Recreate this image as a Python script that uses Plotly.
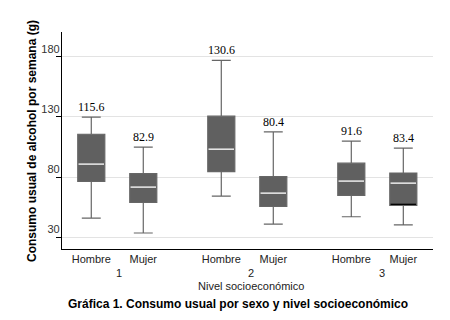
import plotly.graph_objects as go

groups = ["1", "2", "3"]
sexes = ["Hombre", "Mujer"]
q3 = [115.6, 82.9, 130.6, 80.4, 91.6, 83.4]
upper = [129.8, 104.9, 177.0, 117.6, 109.9, 104.0]
median = [90.8, 71.7, 103.2, 66.7, 76.7, 75.0]
q1 = [76.4, 58.9, 84.6, 55.6, 64.8, 56.5]
lower = [46.0, 33.6, 64.2, 41.0, 47.1, 40.4]
ytick_vals = [30, 80, 130, 180]

# layout positions: groups 2.5 units apart, sexes 1 unit apart
pos = []
labels = []
for gi, g in enumerate(groups):
    for si, s in enumerate(sexes):
        pos.append(gi * 2.5 + si)
        labels.append(s)

W, H = 450, 320
L, R, T, B = 62, 17, 32, 71
sans = "Liberation Sans, Arial, sans-serif"
serif = "Liberation Serif, Times New Roman, serif"

fig = go.Figure()
fig.add_trace(go.Box(
    x=pos, q1=q1, median=median, q3=q3, lowerfence=lower, upperfence=upper,
    width=0.52, whiskerwidth=0.7, fillcolor="#606060",
    line=dict(color="#666666", width=1.2), boxpoints=False,
    hoverinfo="skip", showlegend=False,
))

shapes = []
for p, m in zip(pos, median):
    shapes.append(dict(type="line", xref="x", yref="y", x0=p - 0.245, x1=p + 0.245,
                       y0=m, y1=m, line=dict(color="white", width=1.3), layer="above"))
# dark line at Q1 of the last box (as in the original)
shapes.append(dict(type="line", xref="x", yref="y", x0=pos[5] - 0.245, x1=pos[5] + 0.245,
                   y0=q1[5] + 0.9, y1=q1[5] + 0.9, line=dict(color="black", width=1.3), layer="above"))

annotations = []
for p, q, u in zip(pos, q3, upper):
    annotations.append(dict(x=p, y=u, xref="x", yref="y", text=f"{q:.1f}", showarrow=False,
                            yanchor="bottom", xanchor="center", yshift=1,
                            font=dict(family=serif, size=12, color="black")))
for gi, g in enumerate(groups):
    annotations.append(dict(x=gi * 2.5 + 0.5, y=0, xref="x", yref="paper", text=g, showarrow=False,
                            yanchor="middle", xanchor="center", yshift=-24, xshift=2 + gi * 1.5,
                            font=dict(family=sans, size=11, color="#222222")))
annotations.append(dict(x=3.07, y=0, xref="x", yref="paper",
                        text="Nivel socioeconómico", showarrow=False, yanchor="middle",
                        xanchor="center", yshift=-37,
                        font=dict(family=sans, size=11, color="#222222")))
annotations.append(dict(x=(238 - L) / (W - L - R), y=0, xref="paper", yref="paper",
                        text="<b>Gráfica 1. Consumo usual por sexo y nivel socioeconómico</b>",
                        showarrow=False, yanchor="middle", xanchor="center", yshift=-55,
                        font=dict(family=sans, size=12, color="black")))
annotations.append(dict(x=(32 - L) / (W - L - R), y=(H - B - 141) / (H - T - B), xref="paper", yref="paper",
                        text="<b>Consumo usual de alcohol por semana (g)</b>", textangle=-90,
                        showarrow=False, xanchor="center", yanchor="middle",
                        font=dict(family=sans, size=12, color="black")))

fig.update_layout(
    width=W, height=H, margin=dict(l=L, r=R, t=T, b=B),
    plot_bgcolor="white", paper_bgcolor="white",
    shapes=shapes, annotations=annotations, showlegend=False,
    xaxis=dict(range=[-0.563, 6.571], tickvals=pos, ticktext=labels, ticks="",
               showline=True, linecolor="black", linewidth=1.2, showgrid=False, zeroline=False,
               tickfont=dict(family=sans, size=11, color="#222222"), fixedrange=True),
    yaxis=dict(range=[20.3, 200.5], tickvals=ytick_vals, ticks="outside", ticklen=5,
               tickcolor="black", showline=True, linecolor="black", linewidth=1.2,
               showgrid=True, gridcolor="#e3e3e3", gridwidth=1, zeroline=False,
               tickfont=dict(family=sans, size=11, color="#333333"),
               ticklabelstandoff=-6, ticklabelshift=-8, fixedrange=True),
)

fig.write_html("out.html", post_script="document.body.style.margin='0';",
               config={"displayModeBar": False})
